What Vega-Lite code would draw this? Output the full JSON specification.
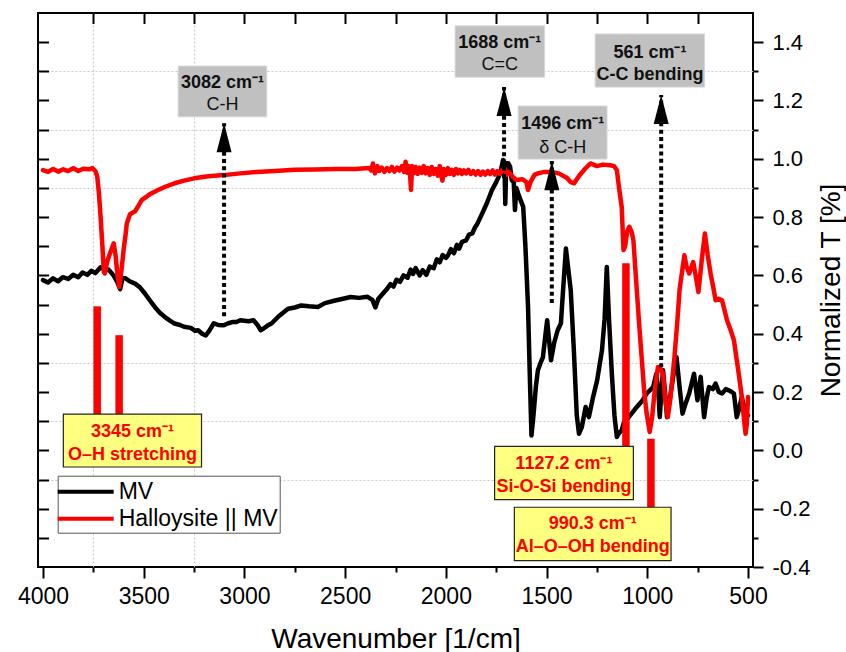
{
  "$schema": "https://vega.github.io/schema/vega-lite/v6.json",
  "width": 715,
  "height": 554,
  "autosize": {"type": "none"},
  "padding": {"left": 38, "top": 13, "right": 93, "bottom": 85},
  "background": "white",
  "config": {
    "locale": {"number": {"decimal": ".", "thousands": ",", "grouping": [3], "currency": ["$", ""], "minus": "-"}},
    "view": {"stroke": "#000000", "strokeWidth": 2},
    "font": "Liberation Sans",
    "axis": {"domain": false, "grid": false, "tickColor": "#000000", "tickWidth": 2, "labelColor": "#000000", "titleColor": "#000000", "labelFont": "Liberation Sans", "titleFont": "Liberation Sans", "labelFlush": false}
  },
  "datasets": {
    "spectra": [
      {"wn":4000,"t":0.584,"series":"MV"},{"wn":3975,"t":0.576,"series":"MV"},{"wn":3950,"t":0.59,"series":"MV"},{"wn":3925,"t":0.58,"series":"MV"},{"wn":3902,"t":0.594,"series":"MV"},{"wn":3875,"t":0.588,"series":"MV"},{"wn":3850,"t":0.602,"series":"MV"},{"wn":3825,"t":0.594,"series":"MV"},{"wn":3804,"t":0.61,"series":"MV"},{"wn":3780,"t":0.602,"series":"MV"},{"wn":3760,"t":0.616,"series":"MV"},{"wn":3740,"t":0.608,"series":"MV"},{"wn":3714,"t":0.628,"series":"MV"},{"wn":3690,"t":0.618,"series":"MV"},{"wn":3674,"t":0.62,"series":"MV"},{"wn":3650,"t":0.6,"series":"MV"},{"wn":3633,"t":0.58,"series":"MV"},{"wn":3617,"t":0.553,"series":"MV"},{"wn":3605,"t":0.59,"series":"MV"},{"wn":3590,"t":0.59,"series":"MV"},{"wn":3570,"t":0.58,"series":"MV"},{"wn":3543,"t":0.572,"series":"MV"},{"wn":3520,"t":0.56,"series":"MV"},{"wn":3494,"t":0.538,"series":"MV"},{"wn":3470,"t":0.515,"series":"MV"},{"wn":3445,"t":0.492,"series":"MV"},{"wn":3420,"t":0.472,"series":"MV"},{"wn":3396,"t":0.458,"series":"MV"},{"wn":3370,"t":0.445,"series":"MV"},{"wn":3347,"t":0.435,"series":"MV"},{"wn":3320,"t":0.43,"series":"MV"},{"wn":3300,"t":0.424,"series":"MV"},{"wn":3266,"t":0.42,"series":"MV"},{"wn":3245,"t":0.41,"series":"MV"},{"wn":3230,"t":0.412,"series":"MV"},{"wn":3210,"t":0.4,"series":"MV"},{"wn":3192,"t":0.394,"series":"MV"},{"wn":3175,"t":0.41,"series":"MV"},{"wn":3152,"t":0.436,"series":"MV"},{"wn":3130,"t":0.43,"series":"MV"},{"wn":3103,"t":0.429,"series":"MV"},{"wn":3080,"t":0.436,"series":"MV"},{"wn":3060,"t":0.44,"series":"MV"},{"wn":3040,"t":0.44,"series":"MV"},{"wn":3021,"t":0.446,"series":"MV"},{"wn":2980,"t":0.443,"series":"MV"},{"wn":2955,"t":0.446,"series":"MV"},{"wn":2935,"t":0.43,"series":"MV"},{"wn":2920,"t":0.412,"series":"MV"},{"wn":2905,"t":0.418,"series":"MV"},{"wn":2885,"t":0.428,"series":"MV"},{"wn":2864,"t":0.436,"series":"MV"},{"wn":2830,"t":0.46,"series":"MV"},{"wn":2783,"t":0.486,"series":"MV"},{"wn":2750,"t":0.49,"series":"MV"},{"wn":2718,"t":0.497,"series":"MV"},{"wn":2680,"t":0.494,"series":"MV"},{"wn":2636,"t":0.492,"series":"MV"},{"wn":2600,"t":0.505,"series":"MV"},{"wn":2555,"t":0.513,"series":"MV"},{"wn":2510,"t":0.52,"series":"MV"},{"wn":2473,"t":0.526,"series":"MV"},{"wn":2430,"t":0.523,"series":"MV"},{"wn":2391,"t":0.527,"series":"MV"},{"wn":2365,"t":0.516,"series":"MV"},{"wn":2350,"t":0.49,"series":"MV"},{"wn":2335,"t":0.52,"series":"MV"},{"wn":2310,"t":0.54,"series":"MV"},{"wn":2293,"t":0.553,"series":"MV"},{"wn":2275,"t":0.57,"series":"MV"},{"wn":2260,"t":0.562,"series":"MV"},{"wn":2245,"t":0.585,"series":"MV"},{"wn":2228,"t":0.578,"series":"MV"},{"wn":2210,"t":0.6,"series":"MV"},{"wn":2190,"t":0.592,"series":"MV"},{"wn":2175,"t":0.62,"series":"MV"},{"wn":2163,"t":0.605,"series":"MV"},{"wn":2150,"t":0.625,"series":"MV"},{"wn":2130,"t":0.6,"series":"MV"},{"wn":2115,"t":0.618,"series":"MV"},{"wn":2097,"t":0.602,"series":"MV"},{"wn":2080,"t":0.63,"series":"MV"},{"wn":2060,"t":0.625,"series":"MV"},{"wn":2045,"t":0.655,"series":"MV"},{"wn":2030,"t":0.645,"series":"MV"},{"wn":2016,"t":0.67,"series":"MV"},{"wn":2000,"t":0.66,"series":"MV"},{"wn":1990,"t":0.668,"series":"MV"},{"wn":1975,"t":0.69,"series":"MV"},{"wn":1960,"t":0.676,"series":"MV"},{"wn":1945,"t":0.705,"series":"MV"},{"wn":1934,"t":0.692,"series":"MV"},{"wn":1920,"t":0.715,"series":"MV"},{"wn":1900,"t":0.72,"series":"MV"},{"wn":1885,"t":0.74,"series":"MV"},{"wn":1869,"t":0.744,"series":"MV"},{"wn":1855,"t":0.765,"series":"MV"},{"wn":1845,"t":0.775,"series":"MV"},{"wn":1820,"t":0.812,"series":"MV"},{"wn":1795,"t":0.85,"series":"MV"},{"wn":1771,"t":0.893,"series":"MV"},{"wn":1750,"t":0.92,"series":"MV"},{"wn":1730,"t":0.95,"series":"MV"},{"wn":1716,"t":0.996,"series":"MV"},{"wn":1709,"t":0.98,"series":"MV"},{"wn":1705,"t":0.845,"series":"MV"},{"wn":1700,"t":0.985,"series":"MV"},{"wn":1690,"t":0.985,"series":"MV"},{"wn":1681,"t":0.973,"series":"MV"},{"wn":1673,"t":0.927,"series":"MV"},{"wn":1663,"t":0.92,"series":"MV"},{"wn":1657,"t":0.824,"series":"MV"},{"wn":1650,"t":0.9,"series":"MV"},{"wn":1641,"t":0.881,"series":"MV"},{"wn":1630,"t":0.86,"series":"MV"},{"wn":1616,"t":0.835,"series":"MV"},{"wn":1605,"t":0.7,"series":"MV"},{"wn":1592,"t":0.492,"series":"MV"},{"wn":1583,"t":0.25,"series":"MV"},{"wn":1575,"t":0.051,"series":"MV"},{"wn":1565,"t":0.12,"series":"MV"},{"wn":1553,"t":0.22,"series":"MV"},{"wn":1543,"t":0.275,"series":"MV"},{"wn":1530,"t":0.3,"series":"MV"},{"wn":1518,"t":0.32,"series":"MV"},{"wn":1505,"t":0.4,"series":"MV"},{"wn":1497,"t":0.446,"series":"MV"},{"wn":1488,"t":0.38,"series":"MV"},{"wn":1478,"t":0.309,"series":"MV"},{"wn":1462,"t":0.37,"series":"MV"},{"wn":1445,"t":0.412,"series":"MV"},{"wn":1429,"t":0.435,"series":"MV"},{"wn":1418,"t":0.55,"series":"MV"},{"wn":1404,"t":0.692,"series":"MV"},{"wn":1392,"t":0.62,"series":"MV"},{"wn":1380,"t":0.549,"series":"MV"},{"wn":1365,"t":0.35,"series":"MV"},{"wn":1350,"t":0.12,"series":"MV"},{"wn":1339,"t":0.057,"series":"MV"},{"wn":1325,"t":0.08,"series":"MV"},{"wn":1306,"t":0.149,"series":"MV"},{"wn":1290,"t":0.114,"series":"MV"},{"wn":1270,"t":0.18,"series":"MV"},{"wn":1249,"t":0.24,"series":"MV"},{"wn":1225,"t":0.343,"series":"MV"},{"wn":1212,"t":0.45,"series":"MV"},{"wn":1201,"t":0.629,"series":"MV"},{"wn":1190,"t":0.45,"series":"MV"},{"wn":1176,"t":0.263,"series":"MV"},{"wn":1163,"t":0.12,"series":"MV"},{"wn":1151,"t":0.046,"series":"MV"},{"wn":1140,"t":0.06,"series":"MV"},{"wn":1127,"t":0.069,"series":"MV"},{"wn":1118,"t":0.092,"series":"MV"},{"wn":1085,"t":0.12,"series":"MV"},{"wn":1052,"t":0.149,"series":"MV"},{"wn":1025,"t":0.17,"series":"MV"},{"wn":1003,"t":0.195,"series":"MV"},{"wn":971,"t":0.217,"series":"MV"},{"wn":955,"t":0.263,"series":"MV"},{"wn":945,"t":0.2,"series":"MV"},{"wn":938,"t":0.114,"series":"MV"},{"wn":930,"t":0.2,"series":"MV"},{"wn":922,"t":0.275,"series":"MV"},{"wn":912,"t":0.2,"series":"MV"},{"wn":902,"t":0.114,"series":"MV"},{"wn":889,"t":0.172,"series":"MV"},{"wn":870,"t":0.26,"series":"MV"},{"wn":855,"t":0.32,"series":"MV"},{"wn":840,"t":0.22,"series":"MV"},{"wn":825,"t":0.126,"series":"MV"},{"wn":810,"t":0.16,"series":"MV"},{"wn":792,"t":0.195,"series":"MV"},{"wn":768,"t":0.263,"series":"MV"},{"wn":751,"t":0.172,"series":"MV"},{"wn":735,"t":0.252,"series":"MV"},{"wn":718,"t":0.114,"series":"MV"},{"wn":705,"t":0.18,"series":"MV"},{"wn":694,"t":0.217,"series":"MV"},{"wn":675,"t":0.21,"series":"MV"},{"wn":661,"t":0.229,"series":"MV"},{"wn":645,"t":0.2,"series":"MV"},{"wn":629,"t":0.195,"series":"MV"},{"wn":610,"t":0.21,"series":"MV"},{"wn":596,"t":0.206,"series":"MV"},{"wn":580,"t":0.2,"series":"MV"},{"wn":570,"t":0.195,"series":"MV"},{"wn":556,"t":0.114,"series":"MV"},{"wn":545,"t":0.14,"series":"MV"},{"wn":531,"t":0.183,"series":"MV"},{"wn":520,"t":0.15,"series":"MV"},{"wn":507,"t":0.114,"series":"MV"},{"wn":500,"t":0.12,"series":"MV"},
      {"wn":4000,"t":0.961,"series":"Halloysite || MV"},{"wn":3975,"t":0.955,"series":"Halloysite || MV"},{"wn":3950,"t":0.965,"series":"Halloysite || MV"},{"wn":3925,"t":0.956,"series":"Halloysite || MV"},{"wn":3900,"t":0.964,"series":"Halloysite || MV"},{"wn":3875,"t":0.958,"series":"Halloysite || MV"},{"wn":3850,"t":0.968,"series":"Halloysite || MV"},{"wn":3825,"t":0.958,"series":"Halloysite || MV"},{"wn":3800,"t":0.966,"series":"Halloysite || MV"},{"wn":3770,"t":0.964,"series":"Halloysite || MV"},{"wn":3755,"t":0.968,"series":"Halloysite || MV"},{"wn":3740,"t":0.958,"series":"Halloysite || MV"},{"wn":3731,"t":0.94,"series":"Halloysite || MV"},{"wn":3722,"t":0.88,"series":"Halloysite || MV"},{"wn":3714,"t":0.8,"series":"Halloysite || MV"},{"wn":3705,"t":0.7,"series":"Halloysite || MV"},{"wn":3698,"t":0.612,"series":"Halloysite || MV"},{"wn":3693,"t":0.607,"series":"Halloysite || MV"},{"wn":3680,"t":0.65,"series":"Halloysite || MV"},{"wn":3665,"t":0.68,"series":"Halloysite || MV"},{"wn":3649,"t":0.71,"series":"Halloysite || MV"},{"wn":3640,"t":0.67,"series":"Halloysite || MV"},{"wn":3630,"t":0.6,"series":"Halloysite || MV"},{"wn":3621,"t":0.56,"series":"Halloysite || MV"},{"wn":3610,"t":0.62,"series":"Halloysite || MV"},{"wn":3600,"t":0.687,"series":"Halloysite || MV"},{"wn":3590,"t":0.74,"series":"Halloysite || MV"},{"wn":3584,"t":0.778,"series":"Halloysite || MV"},{"wn":3568,"t":0.81,"series":"Halloysite || MV"},{"wn":3543,"t":0.82,"series":"Halloysite || MV"},{"wn":3525,"t":0.84,"series":"Halloysite || MV"},{"wn":3510,"t":0.858,"series":"Halloysite || MV"},{"wn":3470,"t":0.878,"series":"Halloysite || MV"},{"wn":3429,"t":0.893,"series":"Halloysite || MV"},{"wn":3390,"t":0.905,"series":"Halloysite || MV"},{"wn":3347,"t":0.916,"series":"Halloysite || MV"},{"wn":3300,"t":0.925,"series":"Halloysite || MV"},{"wn":3250,"t":0.933,"series":"Halloysite || MV"},{"wn":3180,"t":0.94,"series":"Halloysite || MV"},{"wn":3103,"t":0.944,"series":"Halloysite || MV"},{"wn":3020,"t":0.95,"series":"Halloysite || MV"},{"wn":2939,"t":0.955,"series":"Halloysite || MV"},{"wn":2850,"t":0.958,"series":"Halloysite || MV"},{"wn":2750,"t":0.962,"series":"Halloysite || MV"},{"wn":2650,"t":0.963,"series":"Halloysite || MV"},{"wn":2550,"t":0.965,"series":"Halloysite || MV"},{"wn":2450,"t":0.965,"series":"Halloysite || MV"},{"wn":2380,"t":0.968,"series":"Halloysite || MV"},{"wn":2370,"t":0.96,"series":"Halloysite || MV"},{"wn":2362,"t":0.984,"series":"Halloysite || MV"},{"wn":2352,"t":0.95,"series":"Halloysite || MV"},{"wn":2340,"t":0.975,"series":"Halloysite || MV"},{"wn":2330,"t":0.958,"series":"Halloysite || MV"},{"wn":2318,"t":0.97,"series":"Halloysite || MV"},{"wn":2305,"t":0.955,"series":"Halloysite || MV"},{"wn":2292,"t":0.968,"series":"Halloysite || MV"},{"wn":2280,"t":0.958,"series":"Halloysite || MV"},{"wn":2268,"t":0.972,"series":"Halloysite || MV"},{"wn":2255,"t":0.956,"series":"Halloysite || MV"},{"wn":2242,"t":0.97,"series":"Halloysite || MV"},{"wn":2230,"t":0.96,"series":"Halloysite || MV"},{"wn":2218,"t":0.975,"series":"Halloysite || MV"},{"wn":2207,"t":0.955,"series":"Halloysite || MV"},{"wn":2200,"t":0.99,"series":"Halloysite || MV"},{"wn":2192,"t":0.952,"series":"Halloysite || MV"},{"wn":2185,"t":0.975,"series":"Halloysite || MV"},{"wn":2178,"t":0.95,"series":"Halloysite || MV"},{"wn":2173,"t":0.893,"series":"Halloysite || MV"},{"wn":2168,"t":0.975,"series":"Halloysite || MV"},{"wn":2160,"t":0.95,"series":"Halloysite || MV"},{"wn":2150,"t":0.972,"series":"Halloysite || MV"},{"wn":2140,"t":0.948,"series":"Halloysite || MV"},{"wn":2130,"t":0.97,"series":"Halloysite || MV"},{"wn":2120,"t":0.952,"series":"Halloysite || MV"},{"wn":2110,"t":0.975,"series":"Halloysite || MV"},{"wn":2100,"t":0.95,"series":"Halloysite || MV"},{"wn":2090,"t":0.968,"series":"Halloysite || MV"},{"wn":2080,"t":0.945,"series":"Halloysite || MV"},{"wn":2070,"t":0.972,"series":"Halloysite || MV"},{"wn":2060,"t":0.948,"series":"Halloysite || MV"},{"wn":2050,"t":0.965,"series":"Halloysite || MV"},{"wn":2040,"t":0.942,"series":"Halloysite || MV"},{"wn":2030,"t":0.975,"series":"Halloysite || MV"},{"wn":2022,"t":0.94,"series":"Halloysite || MV"},{"wn":2017,"t":0.925,"series":"Halloysite || MV"},{"wn":2010,"t":0.965,"series":"Halloysite || MV"},{"wn":2000,"t":0.945,"series":"Halloysite || MV"},{"wn":1990,"t":0.968,"series":"Halloysite || MV"},{"wn":1980,"t":0.948,"series":"Halloysite || MV"},{"wn":1970,"t":0.962,"series":"Halloysite || MV"},{"wn":1960,"t":0.945,"series":"Halloysite || MV"},{"wn":1950,"t":0.965,"series":"Halloysite || MV"},{"wn":1940,"t":0.95,"series":"Halloysite || MV"},{"wn":1930,"t":0.962,"series":"Halloysite || MV"},{"wn":1920,"t":0.948,"series":"Halloysite || MV"},{"wn":1910,"t":0.96,"series":"Halloysite || MV"},{"wn":1900,"t":0.95,"series":"Halloysite || MV"},{"wn":1888,"t":0.962,"series":"Halloysite || MV"},{"wn":1876,"t":0.948,"series":"Halloysite || MV"},{"wn":1864,"t":0.958,"series":"Halloysite || MV"},{"wn":1852,"t":0.946,"series":"Halloysite || MV"},{"wn":1840,"t":0.958,"series":"Halloysite || MV"},{"wn":1828,"t":0.945,"series":"Halloysite || MV"},{"wn":1816,"t":0.956,"series":"Halloysite || MV"},{"wn":1804,"t":0.946,"series":"Halloysite || MV"},{"wn":1792,"t":0.958,"series":"Halloysite || MV"},{"wn":1780,"t":0.948,"series":"Halloysite || MV"},{"wn":1768,"t":0.96,"series":"Halloysite || MV"},{"wn":1756,"t":0.946,"series":"Halloysite || MV"},{"wn":1744,"t":0.958,"series":"Halloysite || MV"},{"wn":1732,"t":0.948,"series":"Halloysite || MV"},{"wn":1720,"t":0.962,"series":"Halloysite || MV"},{"wn":1706,"t":0.965,"series":"Halloysite || MV"},{"wn":1698,"t":0.945,"series":"Halloysite || MV"},{"wn":1689,"t":0.955,"series":"Halloysite || MV"},{"wn":1670,"t":0.94,"series":"Halloysite || MV"},{"wn":1650,"t":0.927,"series":"Halloysite || MV"},{"wn":1620,"t":0.93,"series":"Halloysite || MV"},{"wn":1600,"t":0.92,"series":"Halloysite || MV"},{"wn":1592,"t":0.893,"series":"Halloysite || MV"},{"wn":1580,"t":0.92,"series":"Halloysite || MV"},{"wn":1560,"t":0.945,"series":"Halloysite || MV"},{"wn":1543,"t":0.95,"series":"Halloysite || MV"},{"wn":1510,"t":0.955,"series":"Halloysite || MV"},{"wn":1478,"t":0.955,"series":"Halloysite || MV"},{"wn":1440,"t":0.95,"series":"Halloysite || MV"},{"wn":1400,"t":0.935,"series":"Halloysite || MV"},{"wn":1380,"t":0.92,"series":"Halloysite || MV"},{"wn":1363,"t":0.916,"series":"Halloysite || MV"},{"wn":1340,"t":0.94,"series":"Halloysite || MV"},{"wn":1310,"t":0.965,"series":"Halloysite || MV"},{"wn":1282,"t":0.984,"series":"Halloysite || MV"},{"wn":1250,"t":0.975,"series":"Halloysite || MV"},{"wn":1220,"t":0.98,"series":"Halloysite || MV"},{"wn":1184,"t":0.978,"series":"Halloysite || MV"},{"wn":1165,"t":0.975,"series":"Halloysite || MV"},{"wn":1151,"t":0.961,"series":"Halloysite || MV"},{"wn":1140,"t":0.9,"series":"Halloysite || MV"},{"wn":1127,"t":0.835,"series":"Halloysite || MV"},{"wn":1118,"t":0.687,"series":"Halloysite || MV"},{"wn":1110,"t":0.7,"series":"Halloysite || MV"},{"wn":1100,"t":0.75,"series":"Halloysite || MV"},{"wn":1089,"t":0.767,"series":"Halloysite || MV"},{"wn":1078,"t":0.75,"series":"Halloysite || MV"},{"wn":1069,"t":0.721,"series":"Halloysite || MV"},{"wn":1052,"t":0.549,"series":"Halloysite || MV"},{"wn":1040,"t":0.43,"series":"Halloysite || MV"},{"wn":1028,"t":0.32,"series":"Halloysite || MV"},{"wn":1015,"t":0.2,"series":"Halloysite || MV"},{"wn":1003,"t":0.126,"series":"Halloysite || MV"},{"wn":988,"t":0.063,"series":"Halloysite || MV"},{"wn":975,"t":0.12,"series":"Halloysite || MV"},{"wn":963,"t":0.206,"series":"Halloysite || MV"},{"wn":947,"t":0.286,"series":"Halloysite || MV"},{"wn":935,"t":0.28,"series":"Halloysite || MV"},{"wn":922,"t":0.263,"series":"Halloysite || MV"},{"wn":910,"t":0.17,"series":"Halloysite || MV"},{"wn":898,"t":0.114,"series":"Halloysite || MV"},{"wn":885,"t":0.18,"series":"Halloysite || MV"},{"wn":865,"t":0.32,"series":"Halloysite || MV"},{"wn":850,"t":0.45,"series":"Halloysite || MV"},{"wn":840,"t":0.549,"series":"Halloysite || MV"},{"wn":816,"t":0.669,"series":"Halloysite || MV"},{"wn":805,"t":0.63,"series":"Halloysite || MV"},{"wn":792,"t":0.607,"series":"Halloysite || MV"},{"wn":772,"t":0.646,"series":"Halloysite || MV"},{"wn":760,"t":0.6,"series":"Halloysite || MV"},{"wn":746,"t":0.543,"series":"Halloysite || MV"},{"wn":730,"t":0.65,"series":"Halloysite || MV"},{"wn":714,"t":0.744,"series":"Halloysite || MV"},{"wn":700,"t":0.67,"series":"Halloysite || MV"},{"wn":686,"t":0.607,"series":"Halloysite || MV"},{"wn":670,"t":0.55,"series":"Halloysite || MV"},{"wn":661,"t":0.515,"series":"Halloysite || MV"},{"wn":645,"t":0.52,"series":"Halloysite || MV"},{"wn":629,"t":0.515,"series":"Halloysite || MV"},{"wn":604,"t":0.446,"series":"Halloysite || MV"},{"wn":585,"t":0.41,"series":"Halloysite || MV"},{"wn":570,"t":0.378,"series":"Halloysite || MV"},{"wn":546,"t":0.263,"series":"Halloysite || MV"},{"wn":530,"t":0.18,"series":"Halloysite || MV"},{"wn":521,"t":0.114,"series":"Halloysite || MV"},{"wn":512,"t":0.057,"series":"Halloysite || MV"},{"wn":506,"t":0.09,"series":"Halloysite || MV"},{"wn":500,"t":0.183,"series":"Halloysite || MV"}
    ],
    "bands": [
      {"wn":3731,"top":0.494,"bottom":0.124},
      {"wn":3622,"top":0.395,"bottom":0.124},
      {"wn":1106,"top":0.642,"bottom":0.014},
      {"wn":982,"top":0.04,"bottom":-0.195}
    ],
    "arrows": [
      {"wn":3101,"from":0.46,"tip":1.122},
      {"wn":1711,"from":0.934,"tip":1.246},
      {"wn":1474,"from":0.505,"tip":0.992},
      {"wn":931,"from":0.285,"tip":1.219}
    ],
    "grayBoxes": [
      {"wn1":3329,"wn2":2889,"t1":1.318,"t2":1.144},
      {"wn1":1954,"wn2":1510,"t1":1.456,"t2":1.28},
      {"wn1":1641,"wn2":1200,"t1":1.181,"t2":0.999},
      {"wn1":1259,"wn2":716,"t1":1.428,"t2":1.246}
    ],
    "yellowBoxes": [
      {"wn1":3899,"wn2":3213,"t1":0.124,"t2":-0.057},
      {"wn1":1758,"wn2":1069,"t1":0.014,"t2":-0.169},
      {"wn1":1660,"wn2":882,"t1":-0.195,"t2":-0.378}
    ],
    "grayBold": [
      {"wn":3109,"t":1.261,"label":"3082 cm⁻¹"},
      {"wn":1732,"t":1.396,"label":"1688 cm⁻¹"},
      {"wn":1420,"t":1.121,"label":"1496 cm⁻¹"},
      {"wn":987,"t":1.364,"label":"561 cm⁻¹"},
      {"wn":987,"t":1.287,"label":"C-C bending"}
    ],
    "grayPlain": [
      {"wn":3109,"t":1.184,"label":"C-H"},
      {"wn":1732,"t":1.32,"label":"C=C"},
      {"wn":1420,"t":1.038,"label":"δ C-H"}
    ],
    "yellowText": [
      {"wn":3556,"t":0.063,"label":"3345 cm⁻¹"},
      {"wn":3556,"t":-0.017,"label":"O–H stretching"},
      {"wn":1414,"t":-0.046,"label":"1127.2 cm⁻¹"},
      {"wn":1414,"t":-0.126,"label":"Si-O-Si bending"},
      {"wn":1271,"t":-0.253,"label":"990.3 cm⁻¹"},
      {"wn":1271,"t":-0.333,"label":"Al–O–OH bending"}
    ]
  },
  "resolve": {"axis": {"x": "independent", "y": "independent"}},
  "layer": [
    {
      "data": {"name": "grayBoxes"},
      "mark": {"type": "rect", "opacity": 0},
      "encoding": {
        "x": {"field": "wn1", "type": "quantitative", "scale": {"domain": [500, 4000], "reverse": true, "nice": false, "zero": false},
              "axis": {"orient": "bottom", "values": [3750, 3250], "grid": true, "gridDash": [2, 2], "gridColor": "#c8c8c8", "gridWidth": 1, "ticks": false, "labels": false, "domain": false, "title": null}},
        "x2": {"field": "wn2"},
        "y": {"field": "t1", "type": "quantitative", "scale": {"domain": [-0.4, 1.5], "nice": false, "zero": false},
              "axis": {"orient": "left", "values": [1.3, 1.1, 0.9, 0.3, 0.1, -0.1], "grid": true, "gridDash": [2, 2], "gridColor": "#c8c8c8", "gridWidth": 1, "ticks": false, "labels": false, "domain": false, "title": null}},
        "y2": {"field": "t2"}
      }
    },
    {
      "data": {"name": "spectra"},
      "mark": {"type": "line", "strokeWidth": 4.5, "strokeJoin": "round", "strokeCap": "round"},
      "encoding": {
        "x": {"field": "wn", "type": "quantitative",
              "axis": {"orient": "bottom", "values": [4000, 3500, 3000, 2500, 2000, 1500, 1000, 500], "format": "d", "tickSize": 11, "labelFontSize": 23, "labelPadding": 7, "labelFlush": false, "labelOverlap": false,
                       "title": "Wavenumber [1/cm]", "titleFontSize": 28, "titleFontWeight": "normal", "titleBaseline": "alphabetic", "titleAlign": "center", "titleX": 357.5, "titleY": 80}},
        "y": {"field": "t", "type": "quantitative",
              "axis": {"orient": "right", "values": [-0.4, -0.2, 0, 0.2, 0.4, 0.6, 0.8, 1.0, 1.2, 1.4], "format": ".1f", "tickSize": 10, "labelFontSize": 22, "labelPadding": 9, "labelFlush": false, "labelOverlap": false,
                       "title": "Normalized T [%]", "titleFontSize": 28, "titleFontWeight": "normal", "titleAngle": 270, "titleBaseline": "alphabetic", "titleAlign": "center", "titleX": 86, "titleY": 277}},
        "color": {"field": "series", "type": "nominal", "sort": null,
                  "scale": {"domain": ["MV", "Halloysite || MV"], "range": ["#000000", "#ff0000"]},
                  "legend": {"title": null, "orient": "none", "legendX": 19.7, "legendY": 462.7, "symbolType": "M-2.333,0H2.333", "symbolSize": 576, "symbolStrokeWidth": 4,
                             "labelFontSize": 23, "labelFont": "Liberation Sans", "labelColor": "#000000", "labelLimit": 400, "padding": 2, "symbolOffset": 12, "labelOffset": 19, "rowPadding": 1,
                             "strokeColor": "#555555", "fillColor": "#ffffff"}}
      }
    },
    {
      "data": {"name": "bands"},
      "mark": {"type": "bar", "size": 7.5, "color": "#ff0000"},
      "encoding": {
        "x": {"field": "wn", "type": "quantitative",
              "axis": {"orient": "bottom", "values": [3750, 3250, 2750, 2250, 1750, 1250, 750], "tickSize": 5, "labels": false, "domain": false, "title": null}},
        "y": {"field": "top", "type": "quantitative",
              "axis": {"orient": "right", "values": [-0.3, -0.1, 0.1, 0.3, 0.5, 0.7, 0.9, 1.1, 1.3], "tickSize": 5, "labels": false, "domain": false, "title": null}},
        "y2": {"field": "bottom"}
      }
    },
    {
      "data": {"name": "arrows"},
      "mark": {"type": "rule", "strokeWidth": 4, "strokeDash": [4, 3.3], "color": "#000000"},
      "encoding": {
        "x": {"field": "wn", "type": "quantitative",
              "axis": {"orient": "top", "values": [3750, 3500, 3250, 3000, 2750, 2500, 2250, 2000, 1750, 1500, 1250, 1000, 750], "tickSize": -10.5, "labels": false, "domain": false, "title": null}},
        "y": {"field": "from", "type": "quantitative",
              "axis": {"orient": "left", "values": [-0.3, -0.2, -0.1, 0, 0.1, 0.2, 0.3, 0.4, 0.5, 0.6, 0.7, 0.8, 0.9, 1.0, 1.1, 1.2, 1.3, 1.4], "tickSize": -10.5, "labels": false, "domain": false, "title": null}},
        "y2": {"field": "tip"}
      }
    },
    {
      "data": {"name": "arrows"},
      "mark": {"type": "point", "shape": "M0,0L1,3.87L-1,3.87Z", "size": 225, "filled": true, "color": "#000000", "opacity": 1},
      "encoding": {
        "x": {"field": "wn", "type": "quantitative", "axis": null},
        "y": {"field": "tip", "type": "quantitative", "axis": null}
      }
    },
    {
      "data": {"name": "grayBoxes"},
      "mark": {"type": "rect", "fill": "#c0c0c0", "stroke": "#d6d6d6", "strokeWidth": 1},
      "encoding": {
        "x": {"field": "wn1", "type": "quantitative", "axis": null},
        "x2": {"field": "wn2"},
        "y": {"field": "t1", "type": "quantitative", "axis": null},
        "y2": {"field": "t2"}
      }
    },
    {
      "data": {"name": "yellowBoxes"},
      "mark": {"type": "rect", "fill": "#ffff80", "stroke": "#222222", "strokeWidth": 1.2},
      "encoding": {
        "x": {"field": "wn1", "type": "quantitative", "axis": null},
        "x2": {"field": "wn2"},
        "y": {"field": "t1", "type": "quantitative", "axis": null},
        "y2": {"field": "t2"}
      }
    },
    {
      "data": {"name": "grayBold"},
      "mark": {"type": "text", "font": "Liberation Sans", "fontSize": 18, "fontWeight": "bold", "color": "#111111", "align": "center", "baseline": "middle"},
      "encoding": {
        "x": {"field": "wn", "type": "quantitative", "axis": null},
        "y": {"field": "t", "type": "quantitative", "axis": null},
        "text": {"field": "label", "type": "nominal"}
      }
    },
    {
      "data": {"name": "grayPlain"},
      "mark": {"type": "text", "font": "Liberation Sans", "fontSize": 18, "fontWeight": "normal", "color": "#111111", "align": "center", "baseline": "middle"},
      "encoding": {
        "x": {"field": "wn", "type": "quantitative", "axis": null},
        "y": {"field": "t", "type": "quantitative", "axis": null},
        "text": {"field": "label", "type": "nominal"}
      }
    },
    {
      "data": {"name": "yellowText"},
      "mark": {"type": "text", "font": "Liberation Sans", "fontSize": 18, "fontWeight": "bold", "color": "#ff0000", "align": "center", "baseline": "middle"},
      "encoding": {
        "x": {"field": "wn", "type": "quantitative", "axis": null},
        "y": {"field": "t", "type": "quantitative", "axis": null},
        "text": {"field": "label", "type": "nominal"}
      }
    }
  ]
}
